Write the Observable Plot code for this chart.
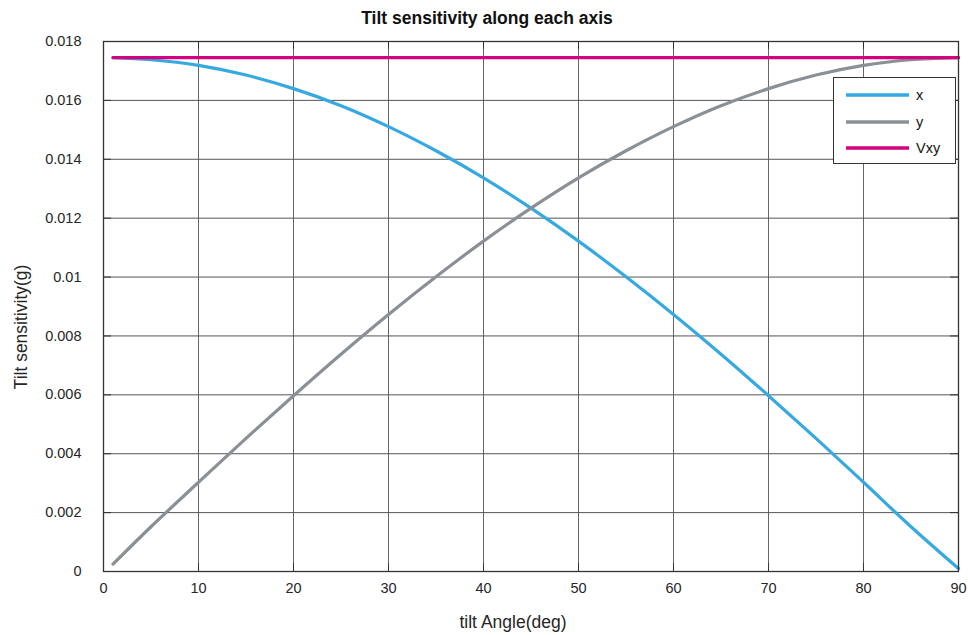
<!DOCTYPE html>
<html>
<head>
<meta charset="utf-8">
<script src="https://cdn.jsdelivr.net/npm/d3@7"></script>
<script src="https://cdn.jsdelivr.net/npm/@observablehq/plot@0.6"></script>
<style>
  html, body { margin: 0; padding: 0; background: #fff; }
  body { font-family: "Liberation Sans", Arial, sans-serif; }
  #wrap { position: relative; width: 968px; height: 635px; overflow: hidden; }
  #title { position: absolute; left: 0; top: 0; width: 974px; height: 30px; line-height: 36px;
           text-align: center; font-weight: bold; font-size: 17.5px; color: #111; }
  #chart { position: absolute; left: 0; top: 30px; }
  #xlabel { position: absolute; left: 0; width: 1026px; top: 611px; text-align: center;
            font-size: 17.5px; color: #262626; line-height: 22px; }
  #ylabel { position: absolute; left: 21px; top: 327px; transform: translate(-50%, -50%) rotate(-90deg);
            white-space: nowrap; font-size: 17.5px; color: #262626; }
  #legend { position: absolute; left: 833px; top: 77px; width: 121px; height: 85px;
            border: 1px solid #333; background: #fff; }
  #legend .row { position: absolute; left: 0; height: 20px; }
  #legend svg { position: absolute; left: 12px; top: 7px; }
  #legend span { position: absolute; left: 82px; top: 0; font-size: 14.5px; color: #111; line-height: 20px; }
</style>
</head>
<body>
<div id="wrap">
  <div id="title">Tilt sensitivity along each axis</div>
  <div id="chart"></div>
  <div id="xlabel">tilt Angle(deg)</div>
  <div id="ylabel">Tilt sensitivity(g)</div>
  <div id="legend"></div>
</div>
<script>
// ---- data ----
const angles = [1, 5, 10, 15, 20, 25, 30, 35, 40, 45, 50, 55, 60, 65, 70, 75, 80, 85, 90];
const xSens  = [0.01745, 0.01738, 0.01719, 0.01686, 0.01640, 0.01582, 0.01511, 0.01429, 0.01337, 0.01234,
                0.01122, 0.01001, 0.00873, 0.00738, 0.00597, 0.00452, 0.00303, 0.00152, 0.00010];
const ySens  = [0.00025, 0.00152, 0.00303, 0.00452, 0.00597, 0.00738, 0.00873, 0.01001, 0.01122, 0.01234,
                0.01337, 0.01429, 0.01511, 0.01582, 0.01640, 0.01686, 0.01719, 0.01738, 0.01745];
const vxySens = [0.01745, 0.01745, 0.01745, 0.01745, 0.01745, 0.01745, 0.01745, 0.01745, 0.01745, 0.01745,
                 0.01745, 0.01745, 0.01745, 0.01745, 0.01745, 0.01745, 0.01745, 0.01745, 0.01745];
const seriesNames = ["x", "y", "Vxy"];
const seriesColors = ["#36a9e1", "#8b9096", "#d5007f"];
const xTicks = [0, 10, 20, 30, 40, 50, 60, 70, 80, 90];
const yTicks = [0, 0.002, 0.004, 0.006, 0.008, 0.01, 0.012, 0.014, 0.016, 0.018];

const seriesValues = [xSens, ySens, vxySens];
const rows = [];
seriesNames.forEach((name, k) => angles.forEach((a, i) => rows.push({series: name, angle: a, value: seriesValues[k][i]})));

const W = 968, H = 605, mL = 103, mR = 10, mT = 11, mB = 64;
const pw = W - mL - mR, ph = H - mT - mB;
const tickLen = 8;
const yFmt = d => d === 0 ? "0" : String(+d.toFixed(3));

const chart = Plot.plot({
  width: W, height: H,
  marginLeft: mL, marginRight: mR, marginTop: mT, marginBottom: mB,
  style: {fontFamily: "'Liberation Sans', Arial, sans-serif", fontSize: "14.5px", color: "#262626", background: "#fff"},
  x: {domain: [0, 90]},
  y: {domain: [0, 0.018]},
  color: {domain: seriesNames, range: seriesColors},
  marks: [
    Plot.gridX(xTicks, {stroke: "#666", strokeOpacity: 1, strokeWidth: 1}),
    Plot.gridY(yTicks, {stroke: "#555", strokeOpacity: 1, strokeWidth: 1}),
    // inward tick marks on all four sides
    Plot.ruleX(xTicks, {x: d => d, insetTop: ph - tickLen, stroke: "#333"}),
    Plot.ruleX(xTicks, {x: d => d, insetBottom: ph - tickLen, stroke: "#333"}),
    Plot.ruleY(yTicks, {y: d => d, insetRight: pw - tickLen, stroke: "#333"}),
    Plot.ruleY(yTicks, {y: d => d, insetLeft: pw - tickLen, stroke: "#333"}),
    Plot.axisX({ticks: xTicks, tickSize: 0, tickPadding: 11, label: null, tickFormat: d => String(d)}),
    Plot.axisY({ticks: yTicks, tickSize: 0, tickPadding: 22, label: null, tickFormat: yFmt}),
    Plot.line(rows, {x: "angle", y: "value", z: "series", stroke: "series", strokeWidth: 3.2, curve: "catmull-rom"}),
    Plot.frame({stroke: "#333", strokeWidth: 1.3})
  ]
});
document.getElementById("chart").appendChild(chart);

// legend
const legend = document.getElementById("legend");
seriesNames.forEach((name, k) => {
  const row = document.createElement("div");
  row.className = "row";
  row.style.top = (7 + k * 26.5) + "px";
  row.style.width = "121px";
  row.innerHTML = `<svg width="64" height="6"><line x1="0" x2="63" y1="3" y2="3" stroke="${seriesColors[k]}" stroke-width="3.5"/></svg><span>${name}</span>`;
  legend.appendChild(row);
});
</script>
</body>
</html>
